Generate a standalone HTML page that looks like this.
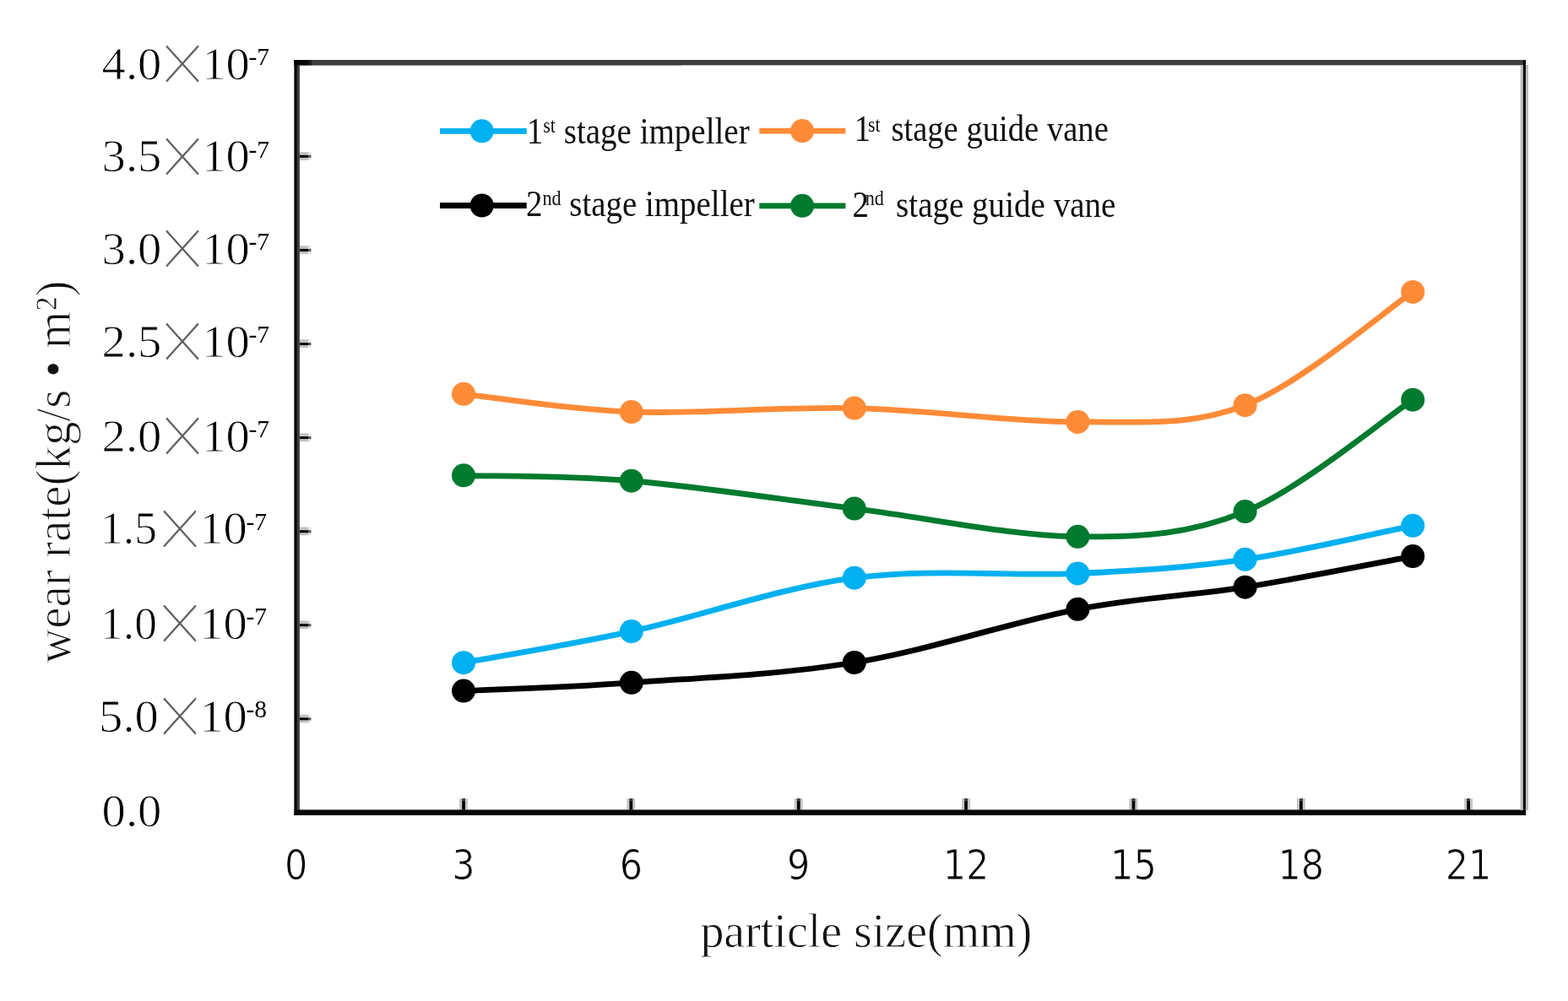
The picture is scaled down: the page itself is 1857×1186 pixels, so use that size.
<!DOCTYPE html>
<html><head><meta charset="utf-8"><title>wear rate vs particle size</title>
<style>
html,body{margin:0;padding:0;background:#fff;}
body{width:1857px;height:1186px;overflow:hidden;}
svg{display:block;}
.ser{font-family:"Liberation Serif","Noto Serif CJK SC",serif;}
.cjk{font-family:"Noto Serif CJK SC","Liberation Serif",serif;}
.xt{font-family:"DejaVu Sans","Liberation Sans",sans-serif;font-weight:400;}
.thin{stroke:#fff;stroke-width:0.9px;}
</style></head><body>
<svg width="1857" height="1186" viewBox="0 0 1857 1186">
<rect x="0" y="0" width="1857" height="1186" fill="#fff"/>
<rect x="355" y="180.1" width="10" height="9.8" fill="#c2c2c2"/>
<rect x="365" y="180.1" width="3.4" height="9.8" fill="#e6e6e6"/>
<rect x="355" y="183.8" width="10" height="3" fill="#000"/>
<rect x="365" y="183.8" width="3.4" height="3" fill="#555"/>
<rect x="355" y="291.2" width="10" height="9.8" fill="#c2c2c2"/>
<rect x="365" y="291.2" width="3.4" height="9.8" fill="#e6e6e6"/>
<rect x="355" y="294.9" width="10" height="3" fill="#000"/>
<rect x="365" y="294.9" width="3.4" height="3" fill="#555"/>
<rect x="355" y="402.3" width="10" height="9.8" fill="#c2c2c2"/>
<rect x="365" y="402.3" width="3.4" height="9.8" fill="#e6e6e6"/>
<rect x="355" y="406.0" width="10" height="3" fill="#000"/>
<rect x="365" y="406.0" width="3.4" height="3" fill="#555"/>
<rect x="355" y="513.4" width="10" height="9.8" fill="#c2c2c2"/>
<rect x="365" y="513.4" width="3.4" height="9.8" fill="#e6e6e6"/>
<rect x="355" y="517.1" width="10" height="3" fill="#000"/>
<rect x="365" y="517.1" width="3.4" height="3" fill="#555"/>
<rect x="355" y="624.5" width="10" height="9.8" fill="#c2c2c2"/>
<rect x="365" y="624.5" width="3.4" height="9.8" fill="#e6e6e6"/>
<rect x="355" y="628.2" width="10" height="3" fill="#000"/>
<rect x="365" y="628.2" width="3.4" height="3" fill="#555"/>
<rect x="355" y="735.5" width="10" height="9.8" fill="#c2c2c2"/>
<rect x="365" y="735.5" width="3.4" height="9.8" fill="#e6e6e6"/>
<rect x="355" y="739.2" width="10" height="3" fill="#000"/>
<rect x="365" y="739.2" width="3.4" height="3" fill="#555"/>
<rect x="355" y="846.6" width="10" height="9.8" fill="#c2c2c2"/>
<rect x="365" y="846.6" width="3.4" height="9.8" fill="#e6e6e6"/>
<rect x="355" y="850.3" width="10" height="3" fill="#000"/>
<rect x="365" y="850.3" width="3.4" height="3" fill="#555"/>
<rect x="544.0" y="946.1" width="10" height="13.5" fill="#c6c6c6"/>
<rect x="547.2" y="946.1" width="3.7" height="13.5" fill="#000"/>
<rect x="547.2" y="946.1" width="3.7" height="3" fill="#444"/>
<rect x="742.3" y="946.1" width="10" height="13.5" fill="#c6c6c6"/>
<rect x="745.5" y="946.1" width="3.7" height="13.5" fill="#000"/>
<rect x="745.5" y="946.1" width="3.7" height="3" fill="#444"/>
<rect x="940.7" y="946.1" width="10" height="13.5" fill="#c6c6c6"/>
<rect x="943.9" y="946.1" width="3.7" height="13.5" fill="#000"/>
<rect x="943.9" y="946.1" width="3.7" height="3" fill="#444"/>
<rect x="1139.0" y="946.1" width="10" height="13.5" fill="#c6c6c6"/>
<rect x="1142.2" y="946.1" width="3.7" height="13.5" fill="#000"/>
<rect x="1142.2" y="946.1" width="3.7" height="3" fill="#444"/>
<rect x="1337.4" y="946.1" width="10" height="13.5" fill="#c6c6c6"/>
<rect x="1340.6" y="946.1" width="3.7" height="13.5" fill="#000"/>
<rect x="1340.6" y="946.1" width="3.7" height="3" fill="#444"/>
<rect x="1535.8" y="946.1" width="10" height="13.5" fill="#c6c6c6"/>
<rect x="1539.0" y="946.1" width="3.7" height="13.5" fill="#000"/>
<rect x="1539.0" y="946.1" width="3.7" height="3" fill="#444"/>
<rect x="1734.1" y="946.1" width="10" height="13.5" fill="#c6c6c6"/>
<rect x="1737.3" y="946.1" width="3.7" height="13.5" fill="#000"/>
<rect x="1737.3" y="946.1" width="3.7" height="3" fill="#444"/>
<rect x="348.5" y="71" width="458.5" height="6.3" fill="#3c3c3c"/>
<rect x="348.5" y="71" width="1458.5" height="6.3" fill="#3e3e3e"/>
<rect x="348.5" y="71" width="17" height="6.3" fill="#080808"/>
<rect x="365.5" y="71" width="3.5" height="6.3" fill="#1c1c1c"/>
<rect x="348.4" y="71" width="3.5" height="895" fill="#000"/>
<rect x="351.9" y="77" width="3" height="883" fill="#3c3c3c"/>
<rect x="348.4" y="959.4" width="1458.6" height="6.5" fill="#080808"/>
<rect x="1800.6" y="77" width="9.4" height="883" fill="#bdbdbd"/>
<rect x="1803.9" y="71" width="3" height="895" fill="#000"/>
<text class="ser thin" transform="translate(120.6,93.6) scale(1.02,1)" font-size="55.5" fill="#000">4.0</text>
<text class="cjk" transform="translate(182.9,103.1) scale(1,1.115)" font-size="66" fill="#606060" stroke="#fff" stroke-width="0.6">×</text>
<text class="ser thin" transform="translate(239.2,93.6) scale(1.02,1)" font-size="55.5" fill="#000">10</text>
<text class="ser" x="294.5" y="77.1" font-size="29.5" fill="#000">-7</text>
<text class="ser thin" transform="translate(120.6,203.2) scale(1.02,1)" font-size="55.5" fill="#000">3.5</text>
<text class="cjk" transform="translate(182.9,212.7) scale(1,1.115)" font-size="66" fill="#606060" stroke="#fff" stroke-width="0.6">×</text>
<text class="ser thin" transform="translate(239.2,203.2) scale(1.02,1)" font-size="55.5" fill="#000">10</text>
<text class="ser" x="294.5" y="186.7" font-size="29.5" fill="#000">-7</text>
<text class="ser thin" transform="translate(120.6,312.7) scale(1.02,1)" font-size="55.5" fill="#000">3.0</text>
<text class="cjk" transform="translate(182.9,322.2) scale(1,1.115)" font-size="66" fill="#606060" stroke="#fff" stroke-width="0.6">×</text>
<text class="ser thin" transform="translate(239.2,312.7) scale(1.02,1)" font-size="55.5" fill="#000">10</text>
<text class="ser" x="294.5" y="296.2" font-size="29.5" fill="#000">-7</text>
<text class="ser thin" transform="translate(120.6,422.7) scale(1.02,1)" font-size="55.5" fill="#000">2.5</text>
<text class="cjk" transform="translate(182.9,432.2) scale(1,1.115)" font-size="66" fill="#606060" stroke="#fff" stroke-width="0.6">×</text>
<text class="ser thin" transform="translate(239.2,422.7) scale(1.02,1)" font-size="55.5" fill="#000">10</text>
<text class="ser" x="294.5" y="406.2" font-size="29.5" fill="#000">-7</text>
<text class="ser thin" transform="translate(120.6,534.5) scale(1.02,1)" font-size="55.5" fill="#000">2.0</text>
<text class="cjk" transform="translate(182.9,544.0) scale(1,1.115)" font-size="66" fill="#606060" stroke="#fff" stroke-width="0.6">×</text>
<text class="ser thin" transform="translate(239.2,534.5) scale(1.02,1)" font-size="55.5" fill="#000">10</text>
<text class="ser" x="294.5" y="518.0" font-size="29.5" fill="#000">-7</text>
<text class="ser thin" transform="translate(119.0,644.3) scale(0.965,1)" font-size="55.5" fill="#000">1.5</text>
<text class="cjk" transform="translate(179.9,653.8) scale(1,1.115)" font-size="66" fill="#606060" stroke="#fff" stroke-width="0.6">×</text>
<text class="ser thin" transform="translate(236.2,644.3) scale(1.02,1)" font-size="55.5" fill="#000">10</text>
<text class="ser" x="291.5" y="627.8" font-size="29.5" fill="#000">-7</text>
<text class="ser thin" transform="translate(119.0,756.8) scale(0.965,1)" font-size="55.5" fill="#000">1.0</text>
<text class="cjk" transform="translate(179.9,766.3) scale(1,1.115)" font-size="66" fill="#606060" stroke="#fff" stroke-width="0.6">×</text>
<text class="ser thin" transform="translate(236.2,756.8) scale(1.02,1)" font-size="55.5" fill="#000">10</text>
<text class="ser" x="291.5" y="740.3" font-size="29.5" fill="#000">-7</text>
<text class="ser thin" transform="translate(117.1,866.9) scale(1.02,1)" font-size="55.5" fill="#000">5.0</text>
<text class="cjk" transform="translate(179.9,876.4) scale(1,1.115)" font-size="66" fill="#606060" stroke="#fff" stroke-width="0.6">×</text>
<text class="ser thin" transform="translate(236.2,866.9) scale(1.02,1)" font-size="55.5" fill="#000">10</text>
<text class="ser" x="291.5" y="850.4" font-size="29.5" fill="#000">-8</text>
<text class="ser thin" transform="translate(120.6,979.1) scale(1.02,1)" font-size="55.5" fill="#000">0.0</text>
<text class="xt" transform="translate(350.6,1042) scale(0.86,1)" font-size="50" text-anchor="middle" fill="#000" stroke="#fff" stroke-width="1">0</text>
<text class="xt" transform="translate(549.0,1042) scale(0.86,1)" font-size="50" text-anchor="middle" fill="#000" stroke="#fff" stroke-width="1">3</text>
<text class="xt" transform="translate(747.3,1042) scale(0.86,1)" font-size="50" text-anchor="middle" fill="#000" stroke="#fff" stroke-width="1">6</text>
<text class="xt" transform="translate(945.7,1042) scale(0.86,1)" font-size="50" text-anchor="middle" fill="#000" stroke="#fff" stroke-width="1">9</text>
<text class="xt" transform="translate(1144.0,1042) scale(0.86,1)" font-size="50" text-anchor="middle" fill="#000" stroke="#fff" stroke-width="1">12</text>
<text class="xt" transform="translate(1342.4,1042) scale(0.86,1)" font-size="50" text-anchor="middle" fill="#000" stroke="#fff" stroke-width="1">15</text>
<text class="xt" transform="translate(1540.8,1042) scale(0.86,1)" font-size="50" text-anchor="middle" fill="#000" stroke="#fff" stroke-width="1">18</text>
<text class="xt" transform="translate(1739.1,1042) scale(0.86,1)" font-size="50" text-anchor="middle" fill="#000" stroke="#fff" stroke-width="1">21</text>
<text class="ser" transform="translate(829.4,1121.6) scale(0.9645,1)" font-size="58" fill="#111" stroke="#fff" stroke-width="0.8">particle size(mm)</text>
<text class="ser" transform="translate(83,786) rotate(-90) scale(0.9506,1)" font-size="60" fill="#111" stroke="#fff" stroke-width="1.1">wear rate(kg/s • m²)</text>
<line x1="521" y1="155.3" x2="623.7" y2="155.3" stroke="#00B0F0" stroke-width="6.8"/>
<circle cx="570.7" cy="155.3" r="14" fill="#00B0F0"/>
<line x1="899.3" y1="155.1" x2="1001.4" y2="155.1" stroke="#FF8B37" stroke-width="6.8"/>
<circle cx="950.1" cy="155.1" r="14" fill="#FF8B37"/>
<line x1="521" y1="243.5" x2="623.7" y2="243.5" stroke="#000000" stroke-width="6.8"/>
<circle cx="570.7" cy="243.5" r="14" fill="#000000"/>
<line x1="899.3" y1="243.8" x2="1001.4" y2="243.8" stroke="#007A2E" stroke-width="6.8"/>
<circle cx="950.1" cy="243.8" r="14" fill="#007A2E"/>
<text class="ser" transform="translate(623.7,170) scale(0.8866,1)" font-size="44" fill="#111">1<tspan font-size="25" dx="0" dy="-13.5">st</tspan><tspan dx="0" dy="13.5"> stage impeller</tspan></text>
<text class="ser" transform="translate(1011.8,166.5) scale(0.878,1)" font-size="44" fill="#111">1<tspan font-size="25" dx="-3.5" dy="-11">st</tspan><tspan dx="3.5" dy="11"> stage guide vane</tspan></text>
<text class="ser" transform="translate(623,256.2) scale(0.885,1)" font-size="44" fill="#111">2<tspan font-size="25" dx="0" dy="-13.5">nd</tspan><tspan dx="0" dy="13.5"> stage impeller</tspan></text>
<text class="ser" transform="translate(1009.6,256.5) scale(0.888,1)" font-size="44" fill="#111">2<tspan font-size="25" dx="-5" dy="-13.5">nd</tspan><tspan dx="5" dy="13.5"> stage guide vane</tspan></text>
<path d="M549.0,466.8 C582.1,470.4 670.7,485.3 747.8,488.1 C824.9,490.9 923.7,481.6 1011.8,483.6 C1099.9,485.6 1199.3,500.5 1276.4,499.9 C1353.5,499.3 1408.5,505.9 1474.6,480.2 C1540.7,454.5 1640.1,368.3 1673.2,345.9" fill="none" stroke="#FF8B37" stroke-width="6.8" stroke-linejoin="round"/>
<circle cx="549" cy="466.8" r="14" fill="#FF8B37"/>
<circle cx="747.8" cy="488.1" r="14" fill="#FF8B37"/>
<circle cx="1011.8" cy="483.6" r="14" fill="#FF8B37"/>
<circle cx="1276.4" cy="499.9" r="14" fill="#FF8B37"/>
<circle cx="1474.6" cy="480.2" r="14" fill="#FF8B37"/>
<circle cx="1673.2" cy="345.9" r="14" fill="#FF8B37"/>
<path d="M549.0,563.3 C582.1,564.4 670.7,563.2 747.8,569.7 C824.9,576.2 923.7,591.6 1011.8,602.6 C1099.9,613.6 1199.3,635.2 1276.4,635.8 C1353.5,636.4 1408.5,633.1 1474.6,606.1 C1540.7,579.1 1640.1,495.8 1673.2,473.7" fill="none" stroke="#007A2E" stroke-width="6.8" stroke-linejoin="round"/>
<circle cx="549" cy="563.3" r="14" fill="#007A2E"/>
<circle cx="747.8" cy="569.7" r="14" fill="#007A2E"/>
<circle cx="1011.8" cy="602.6" r="14" fill="#007A2E"/>
<circle cx="1276.4" cy="635.8" r="14" fill="#007A2E"/>
<circle cx="1474.6" cy="606.1" r="14" fill="#007A2E"/>
<circle cx="1673.2" cy="473.7" r="14" fill="#007A2E"/>
<path d="M549.0,785.2 C582.1,779.0 670.7,764.9 747.8,748.1 C824.9,731.4 923.7,696.2 1011.8,684.7 C1099.9,673.2 1199.3,683.0 1276.4,679.4 C1353.5,675.8 1408.5,672.2 1474.6,662.8 C1540.7,653.4 1640.1,629.5 1673.2,622.8" fill="none" stroke="#00B0F0" stroke-width="6.8" stroke-linejoin="round"/>
<circle cx="549" cy="785.2" r="14" fill="#00B0F0"/>
<circle cx="747.8" cy="748.1" r="14" fill="#00B0F0"/>
<circle cx="1011.8" cy="684.7" r="14" fill="#00B0F0"/>
<circle cx="1276.4" cy="679.4" r="14" fill="#00B0F0"/>
<circle cx="1474.6" cy="662.8" r="14" fill="#00B0F0"/>
<circle cx="1673.2" cy="622.8" r="14" fill="#00B0F0"/>
<path d="M549.0,818.6 C582.1,817.0 670.7,814.4 747.8,808.8 C824.9,803.2 923.7,799.5 1011.8,785.0 C1099.9,770.5 1199.3,736.7 1276.4,721.8 C1353.5,706.9 1408.5,706.2 1474.6,695.7 C1540.7,685.2 1640.1,665.2 1673.2,659.1" fill="none" stroke="#000000" stroke-width="6.8" stroke-linejoin="round"/>
<circle cx="549" cy="818.6" r="14" fill="#000000"/>
<circle cx="747.8" cy="808.8" r="14" fill="#000000"/>
<circle cx="1011.8" cy="785.0" r="14" fill="#000000"/>
<circle cx="1276.4" cy="721.8" r="14" fill="#000000"/>
<circle cx="1474.6" cy="695.7" r="14" fill="#000000"/>
<circle cx="1673.2" cy="659.1" r="14" fill="#000000"/>
</svg></body></html>
